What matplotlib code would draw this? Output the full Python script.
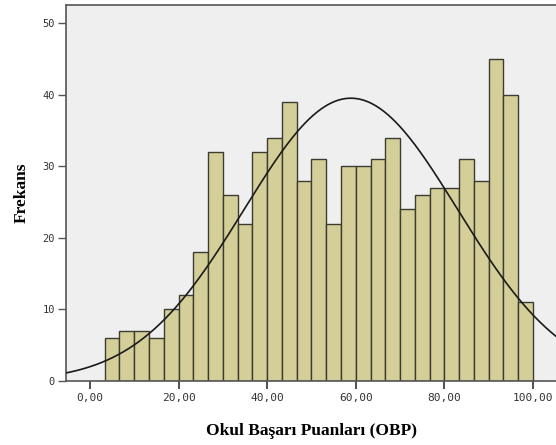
import numpy as np
import matplotlib
matplotlib.use("Agg")
import matplotlib.pyplot as plt

# Histogram data
bin_start = 100 / 30
bin_width = 100 / 30
counts = [6, 7, 7, 6, 10, 12, 18, 32, 26, 22, 32, 34, 39, 28,
          31, 22, 30, 30, 31, 34, 24, 26, 27, 27, 31, 28, 45, 40, 11]
# Fitted normal curve parameters
curve_mean = 58.9
curve_sd = 24.1
n_total = sum(counts)

x_ticks = [0, 20, 40, 60, 80, 100]
x_ticklabels = ["0,00", "20,00", "40,00", "60,00", "80,00", "100,00"]
y_ticks = [0, 10, 20, 30, 40, 50]
x_label = "Okul Başarı Puanları (OBP)"
y_label = "Frekans"

fig = plt.figure(figsize=(5.56, 4.45), dpi=100)
ax = fig.add_axes([66 / 556, 64 / 445, 1 - 66 / 556, (381 - 4.5) / 445])
ax.set_facecolor("#EFEFEF")

edges = bin_start + bin_width * np.arange(len(counts))
ax.bar(edges, counts, width=bin_width, align="edge", color="#D4CF98",
       edgecolor="#3c3c32", linewidth=1.0, zorder=2)

xs = np.linspace(-10, 110, 400)
ys = n_total * bin_width / (curve_sd * np.sqrt(2 * np.pi)) * np.exp(-0.5 * ((xs - curve_mean) / curve_sd) ** 2)
ax.plot(xs, ys, color="#1a1a1a", linewidth=1.2, zorder=3)

ax.set_xlim(-5.4, 105.2)
ax.set_ylim(0, 52.6)
ax.set_xticks(x_ticks)
ax.set_xticklabels(x_ticklabels, fontfamily="DejaVu Sans Mono", fontsize=8, color="#333333")
ax.set_yticks(y_ticks)
ax.set_yticklabels([str(v) for v in y_ticks], fontfamily="DejaVu Sans Mono", fontsize=7.5, color="#333333")
ax.tick_params(axis="x", length=6, width=1.2, color="#333333", pad=3)
ax.tick_params(axis="y", length=6, width=1.0, color="#555555", pad=2)
for s in ["left", "bottom", "top"]:
    ax.spines[s].set_color("#555555")
    ax.spines[s].set_linewidth(1.2)
ax.spines["right"].set_visible(False)

ax.set_xlabel(x_label, fontfamily="Liberation Serif", fontweight="bold", fontsize=12.5, labelpad=14)
ax.set_ylabel(y_label, fontfamily="Liberation Serif", fontweight="bold", fontsize=12.5, labelpad=9)

fig.savefig("out.png", dpi=100, facecolor="white")
